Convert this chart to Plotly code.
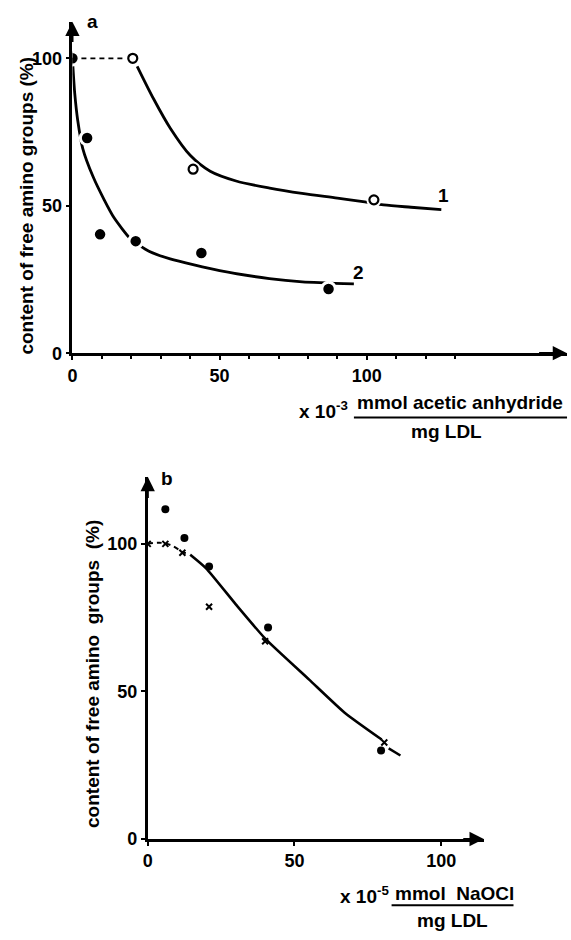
import plotly.graph_objects as go

W, H = 571, 940

# ---------------- Panel a data ----------------
a_open_x = [20.5, 41, 102.4]
a_open_y = [100, 62.4, 52]
a_fill_x = [0, 5, 9.4, 21.5, 43.8, 87]
a_fill_y = [100, 73, 40.3, 38, 34, 21.8]
a_dash_x = [0, 20.5]
a_dash_y = [100, 100]
a_curve1_x = [22, 27.6, 33.3, 40, 46.8, 55.6, 67, 78, 90, 99.3, 105.7, 115, 125.3]
a_curve1_y = [97.3, 86.2, 76.2, 67.1, 61.7, 58.4, 56, 54.2, 52.6, 51.3, 50.3, 49.5, 48.7]
a_curve2_x = [0, 0.8, 1.8, 3.5, 7, 10.8, 14.1, 19.8, 26, 33.2, 50, 66.9, 78.1, 95.6]
a_curve2_y = [100, 88, 79, 69.5, 59.9, 52, 46, 38.7, 34.6, 32, 28, 25.3, 24.2, 23.5]
a_xticks = [0, 50, 100]
a_xminor = [10, 20, 30, 40, 60, 70, 80, 90, 110, 120, 130]
a_yticks = [0, 50, 100]

# ---------------- Panel b data ----------------
b_dot_x = [6, 12.5, 20.9, 41, 79.5]
b_dot_y = [111.7, 102, 92.3, 71.7, 30]
b_cross_x = [0, 6, 11.8, 20.9, 40, 80.6]
b_cross_y = [100, 100, 97, 78.7, 67, 32.7]
b_dash_x = [0, 4, 8, 12, 14.5]
b_dash_y = [100, 100.4, 99.5, 97.2, 96.3]
b_curve_x = [14.5, 19.9, 30, 40.2, 55, 67.2, 79.7]
b_curve_y = [96.3, 91.7, 79.5, 67.7, 54, 42.7, 33.7]
b_tail_x = [82.1, 86.1]
b_tail_y = [30.7, 28.3]
b_xticks = [0, 50, 100]
b_yticks = [0, 50, 100]

FONT = "Liberation Sans, Arial, DejaVu Sans, sans-serif"


def px_x(p):
    return p / W


def px_y(p):
    return 1 - p / H


fig = go.Figure()

# ---- panel a lines
fig.add_trace(go.Scatter(x=a_dash_x, y=a_dash_y, mode="lines",
                         line=dict(color="black", width=1.6, dash="5px,4px"),
                         xaxis="x", yaxis="y", hoverinfo="skip"))
fig.add_trace(go.Scatter(x=a_curve1_x, y=a_curve1_y, mode="lines",
                         line=dict(color="black", width=2.8, shape="spline", smoothing=0.8),
                         xaxis="x", yaxis="y", hoverinfo="skip"))
fig.add_trace(go.Scatter(x=a_curve2_x, y=a_curve2_y, mode="lines",
                         line=dict(color="black", width=2.8, shape="spline", smoothing=0.6),
                         xaxis="x", yaxis="y", hoverinfo="skip"))
# halos (white) to create gaps around markers
fig.add_trace(go.Scatter(x=a_open_x, y=a_open_y, mode="markers",
                         marker=dict(symbol="circle", size=15, color="white", line=dict(width=0)),
                         xaxis="x", yaxis="y", hoverinfo="skip"))
fig.add_trace(go.Scatter(x=a_fill_x, y=a_fill_y, mode="markers",
                         marker=dict(symbol="circle", size=13.5, color="black",
                                     line=dict(color="white", width=3)),
                         xaxis="x", yaxis="y", hoverinfo="skip"))
fig.add_trace(go.Scatter(x=a_open_x, y=a_open_y, mode="markers",
                         marker=dict(symbol="circle", size=9, color="white",
                                     line=dict(color="black", width=2.2)),
                         xaxis="x", yaxis="y", hoverinfo="skip"))

# ---- panel b lines
fig.add_trace(go.Scatter(x=b_dash_x, y=b_dash_y, mode="lines",
                         line=dict(color="black", width=2, dash="5px,4px", shape="spline"),
                         xaxis="x2", yaxis="y2", hoverinfo="skip"))
fig.add_trace(go.Scatter(x=b_curve_x, y=b_curve_y, mode="lines",
                         line=dict(color="black", width=2.6, shape="spline", smoothing=0.5),
                         xaxis="x2", yaxis="y2", hoverinfo="skip"))
fig.add_trace(go.Scatter(x=b_tail_x, y=b_tail_y, mode="lines",
                         line=dict(color="black", width=2.4),
                         xaxis="x2", yaxis="y2", hoverinfo="skip"))
fig.add_trace(go.Scatter(x=b_dot_x, y=b_dot_y, mode="markers",
                         marker=dict(symbol="circle", size=8, color="black"),
                         xaxis="x2", yaxis="y2", hoverinfo="skip"))
fig.add_trace(go.Scatter(x=b_cross_x, y=b_cross_y, mode="markers",
                         marker=dict(symbol="x-thin-open", size=6, color="black",
                                     line=dict(color="black", width=2)),
                         xaxis="x2", yaxis="y2", hoverinfo="skip"))

axis_common = dict(showline=True, linecolor="black", linewidth=2.5, showgrid=False,
                   zeroline=False, ticks="outside", tickcolor="black", tickwidth=2,
                   ticklen=4, tickfont=dict(family=FONT, size=18, color="black", weight="bold"),
                   tickmode="array", fixedrange=True)

fig.update_layout(
    width=W, height=H, margin=dict(l=0, r=0, t=0, b=0),
    paper_bgcolor="white", plot_bgcolor="white", showlegend=False,
    font=dict(family=FONT, size=18, color="black", weight="bold"),
    xaxis=dict(axis_common, domain=[px_x(68), px_x(567)], range=[0, 168], anchor="y",
               tickvals=a_xticks, ticktext=[str(v) for v in a_xticks],
               minor=dict(tickvals=a_xminor, ticks="outside", ticklen=3, tickwidth=1.5,
                          tickcolor="black")),
    yaxis=dict(axis_common, domain=[px_y(357), px_y(22)], range=[0, 112.4], anchor="x",
               tickvals=a_yticks, ticktext=[str(v) for v in a_yticks]),
    xaxis2=dict(axis_common, domain=[px_x(144), px_x(483)], range=[0, 114.5], anchor="y2",
                tickvals=b_xticks, ticktext=[str(v) for v in b_xticks]),
    yaxis2=dict(axis_common, domain=[px_y(848), px_y(482)], range=[0, 122.7], anchor="x2",
                tickvals=b_yticks, ticktext=[str(v) for v in b_yticks]),
)

ann = []
tf = dict(family=FONT, size=19, color="black", weight="bold")
# axis arrowheads
for xr, yr, x, y, ax, ay in [("x", "y", 168, 0, 158, 0), ("x", "y", 0, 112.4, 0, 105),
                             ("x2", "y2", 114.5, 0, 107, 0), ("x2", "y2", 0, 122.7, 0, 115)]:
    ann.append(dict(xref=xr, yref=yr, axref=xr, ayref=yr, x=x, y=y, ax=ax, ay=ay, text="",
                    showarrow=True, arrowhead=2, arrowsize=1.3, arrowwidth=2.2,
                    arrowcolor="black", standoff=0, startstandoff=0))


def label(x, y, text, xref="paper", yref="paper", **kw):
    d = dict(xref=xref, yref=yref, x=x, y=y, text=text, showarrow=False,
             xanchor=kw.pop("xanchor", "center"), yanchor=kw.pop("yanchor", "middle"),
             font=kw.pop("font", tf))
    d.update(kw)
    ann.append(d)


# curve labels
label(126, 53.4, "1", xref="x", yref="y")
label(97.3, 27.2, "2", xref="x", yref="y")
# panel letters
label(px_x(88), px_y(22), "a")
label(px_x(163), px_y(484), "b")
# y titles
label(px_x(22), px_y(208), "content of free amino groups (%)", textangle=-90)
label(px_x(89), px_y(681), "content of free amino  groups  (%)", textangle=-90)
# x titles, panel a
label(px_x(348), px_y(414), "x 10<sup>-3</sup>", xanchor="right")
label(px_x(459), px_y(407), "mmol acetic anhydride")
label(px_x(445), px_y(436), "mg LDL")
# x titles, panel b
label(px_x(389), px_y(905), "x 10<sup>-5</sup>", xanchor="right")
label(px_x(453), px_y(903), "mmol  NaOCl")
label(px_x(451), px_y(930), "mg LDL")
fig.update_layout(annotations=ann)

fig.add_shape(type="line", xref="paper", yref="paper", x0=px_x(352), x1=px_x(567),
              y0=px_y(422), y1=px_y(422), line=dict(color="black", width=2))
fig.add_shape(type="line", xref="paper", yref="paper", x0=px_x(390), x1=px_x(513),
              y0=px_y(915), y1=px_y(915), line=dict(color="black", width=2))

fig.write_html("out.html", config={"displayModeBar": False},
               post_script="document.body.style.margin='0';"
                           "document.body.style.overflow='hidden';")
